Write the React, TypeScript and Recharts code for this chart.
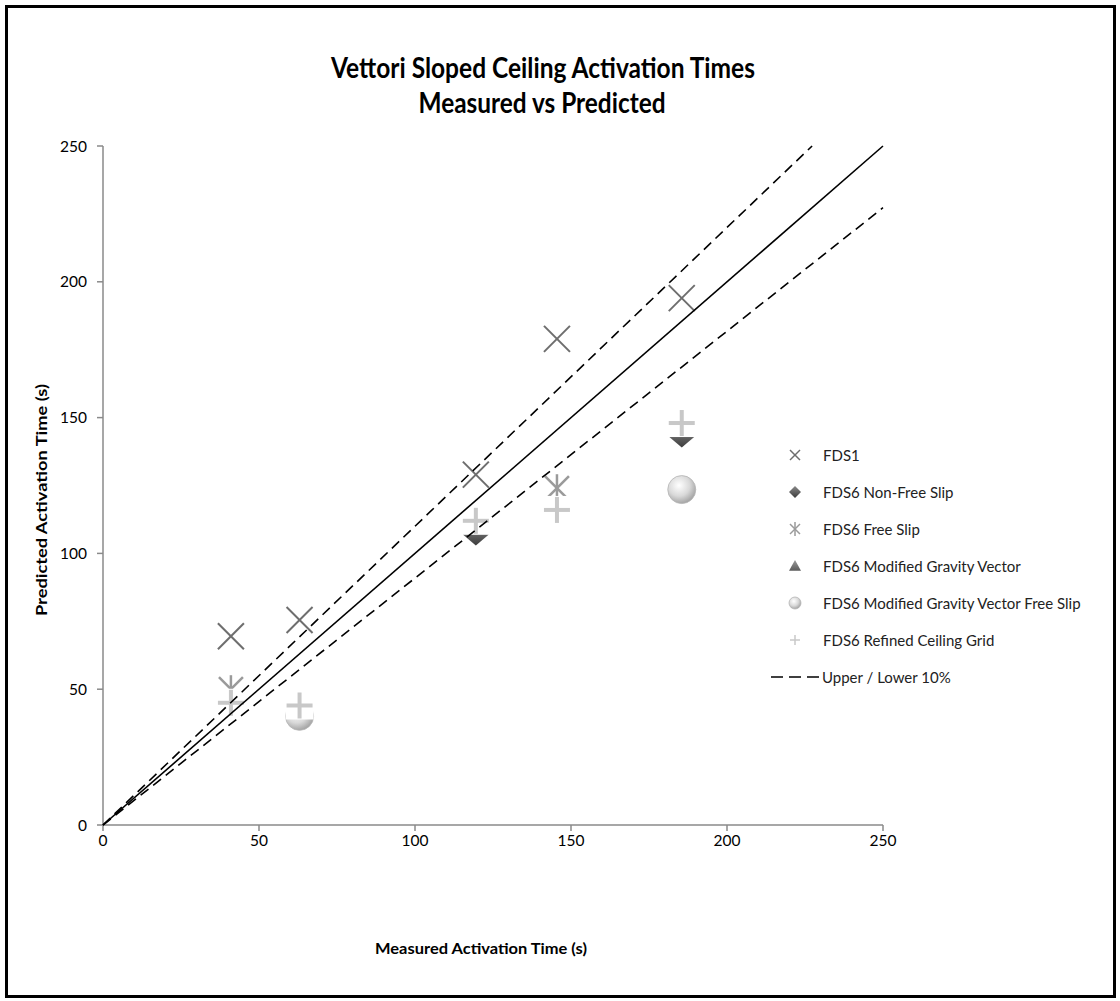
import { ScatterChart, Scatter, XAxis, YAxis } from "recharts";

// measured activation times (s)
const measured = [41, 63, 119.5, 145.5, 185.5];
const fds1 = [69.5, 75.5, 129, 179, 194];
const refinedGrid = [45, 44, 112, 116, 148];

const nonFreeSlipX = [119.5, 185.5];
const nonFreeSlipY = [107, 143];
const freeSlipX = [41, 145.5];
const freeSlipY = [50, 124];
const modGravityX: number[] = [];
const modGravityY: number[] = [];
const modGravityFreeX = [63, 185.5];
const modGravityFreeY = [40, 123.5];

const ticks = [0, 50, 100, 150, 200, 250];
const axisMax = 250;
const exactFactor = 1;
const upperFactor = 1.1;
const lowerFactor = 1 / 1.1;

const legendNames = [
  "FDS1",
  "FDS6 Non-Free Slip",
  "FDS6 Free Slip",
  "FDS6 Modified Gravity Vector",
  "FDS6 Modified Gravity Vector Free Slip",
  "FDS6 Refined Ceiling Grid",
  "Upper / Lower 10%",
];

const zip = (xs: number[], ys: number[]) => xs.map((x, i) => ({ x, y: ys[i] }));
const line = (f: number) => {
  const endX = Math.min(axisMax, axisMax / f);
  return [
    { x: 0, y: 0 },
    { x: endX, y: endX * f },
  ];
};

const FONT = "Lato, 'Open Sans', sans-serif";

const XMark = ({ cx, cy, s = 13, w = 2 }: any) => (
  <g>
    <line x1={cx - s} y1={cy - s} x2={cx + s} y2={cy + s} stroke="#6e6e6e" strokeWidth={w} />
    <line x1={cx - s} y1={cy + s} x2={cx + s} y2={cy - s} stroke="#6e6e6e" strokeWidth={w} />
  </g>
);

const Plus = ({ cx, cy, s = 13, w = 4, bg = true }: any) => (
  <g>
    {bg && <rect x={cx - s - 1} y={cy - s - 1} width={2 * s + 2} height={2 * s + 2} fill="#fff" />}
    <line x1={cx} y1={cy - s} x2={cx} y2={cy + s} stroke="#c8c8c8" strokeWidth={w} />
    <line x1={cx - s} y1={cy} x2={cx + s} y2={cy} stroke="#c8c8c8" strokeWidth={w} />
  </g>
);

const Asterisk = ({ cx, cy, s = 12, w = 2.5 }: any) => (
  <g stroke="#9a9a9a" strokeWidth={w}>
    <line x1={cx - s} y1={cy - s} x2={cx + s} y2={cy + s} />
    <line x1={cx - s} y1={cy + s} x2={cx + s} y2={cy - s} />
    <line x1={cx} y1={cy - s - 2} x2={cx} y2={cy + s + 2} />
  </g>
);

const Diamond = ({ cx, cy, rx = 13, ry = 11 }: any) => (
  <polygon
    points={`${cx},${cy - ry} ${cx + rx},${cy} ${cx},${cy + ry} ${cx - rx},${cy}`}
    fill="url(#diamondGrad)"
  />
);

const Triangle = ({ cx, cy, s = 12 }: any) => (
  <polygon points={`${cx},${cy - s} ${cx + s},${cy + s * 0.8} ${cx - s},${cy + s * 0.8}`} fill="url(#triGrad)" />
);

const Sphere = ({ cx, cy, r = 14 }: any) => (
  <circle cx={cx} cy={cy} r={r} fill="url(#sphereGrad)" stroke="#b5b5b5" strokeWidth={0.8} />
);

const None = () => <g />;

const legendIcons = [
  <XMark cx={10} cy={10} s={5} w={1.5} />,
  <Diamond cx={10} cy={10} rx={6} ry={6} />,
  <Asterisk cx={10} cy={10} s={5} w={1.5} />,
  <Triangle cx={10} cy={10} s={6} />,
  <Sphere cx={10} cy={10} r={6} />,
  <Plus cx={10} cy={10} s={5} w={1.5} bg={false} />,
];

export default function App() {
  return (
    <div style={{ position: "absolute", left: 0, top: 0, width: 1120, height: 1001, background: "#fff", fontFamily: FONT }}>
      <svg width={0} height={0} style={{ position: "absolute" }}>
        <defs>
          <radialGradient id="sphereGrad" cx="40%" cy="35%" r="70%">
            <stop offset="0%" stopColor="#ffffff" />
            <stop offset="55%" stopColor="#d9d9d9" />
            <stop offset="100%" stopColor="#9c9c9c" />
          </radialGradient>
          <linearGradient id="diamondGrad" x1="0" y1="0" x2="0" y2="1">
            <stop offset="0%" stopColor="#8a8a8a" />
            <stop offset="100%" stopColor="#3c3c3c" />
          </linearGradient>
          <linearGradient id="triGrad" x1="0" y1="0" x2="0" y2="1">
            <stop offset="0%" stopColor="#9a9a9a" />
            <stop offset="100%" stopColor="#5a5a5a" />
          </linearGradient>
        </defs>
      </svg>

      <div
        style={{
          position: "absolute",
          left: 5,
          top: 5,
          width: 1111,
          height: 993,
          border: "3px solid #000",
          boxSizing: "border-box",
        }}
      />

      <svg width={1120} height={140} style={{ position: "absolute", left: 0, top: 0 }}>
        <text x={543} y={78} textAnchor="middle" fontFamily={FONT} fontWeight="bold" fontSize={29} textLength={424} lengthAdjust="spacingAndGlyphs" fill="#000">
          Vettori Sloped Ceiling Activation Times
        </text>
        <text x={542} y={113} textAnchor="middle" fontFamily={FONT} fontWeight="bold" fontSize={29} textLength={247} lengthAdjust="spacingAndGlyphs" fill="#000">
          Measured vs Predicted
        </text>
      </svg>

      <div style={{ position: "absolute", left: 0, top: 0 }}>
        <ScatterChart width={1120} height={1001} margin={{ top: 146, right: 237, bottom: 146, left: 43 }}>
          <XAxis
            type="number"
            dataKey="x"
            domain={[0, axisMax]}
            ticks={ticks}
            height={30}
            tickSize={6}
            tickMargin={4}
            axisLine={{ stroke: "#8a8a8a", strokeWidth: 1.5 }}
            tickLine={{ stroke: "#8a8a8a", strokeWidth: 1.5 }}
            tick={{ fill: "#000", fontSize: 15.5, fontFamily: FONT }}
          />
          <YAxis
            type="number"
            dataKey="y"
            domain={[0, axisMax]}
            ticks={ticks}
            width={60}
            tickSize={6}
            tickMargin={10}
            axisLine={{ stroke: "#8a8a8a", strokeWidth: 1.5 }}
            tickLine={{ stroke: "#8a8a8a", strokeWidth: 1.5 }}
            tick={{ fill: "#000", fontSize: 15.5, fontFamily: FONT }}
          />
          <Scatter name="FDS6 Modified Gravity Vector Free Slip" data={zip(modGravityFreeX, modGravityFreeY)} shape={(p: any) => <Sphere cx={p.cx} cy={p.cy} />} isAnimationActive={false} />
          <Scatter name="FDS6 Modified Gravity Vector" data={zip(modGravityX, modGravityY)} shape={(p: any) => <Triangle cx={p.cx} cy={p.cy} />} isAnimationActive={false} />
          <Scatter name="FDS6 Non-Free Slip" data={zip(nonFreeSlipX, nonFreeSlipY)} shape={(p: any) => <Diamond cx={p.cx} cy={p.cy} />} isAnimationActive={false} />
          <Scatter name="FDS6 Free Slip" data={zip(freeSlipX, freeSlipY)} shape={(p: any) => <Asterisk cx={p.cx} cy={p.cy} />} isAnimationActive={false} />
          <Scatter name="FDS1" data={zip(measured, fds1)} shape={(p: any) => <XMark cx={p.cx} cy={p.cy} />} isAnimationActive={false} />
          <Scatter name="FDS6 Refined Ceiling Grid" data={zip(measured, refinedGrid)} shape={(p: any) => <Plus cx={p.cx} cy={p.cy} />} isAnimationActive={false} />
          <Scatter name="exact" data={line(exactFactor)} line={{ stroke: "#000", strokeWidth: 1.6 }} shape={None} isAnimationActive={false} />
          <Scatter name="upper" data={line(upperFactor)} line={{ stroke: "#000", strokeWidth: 1.6, strokeDasharray: "10 6" }} shape={None} isAnimationActive={false} />
          <Scatter name="lower" data={line(lowerFactor)} line={{ stroke: "#000", strokeWidth: 1.6, strokeDasharray: "10 6" }} shape={None} isAnimationActive={false} />
        </ScatterChart>
      </div>

      <svg width={1120} height={1001} style={{ position: "absolute", left: 0, top: 0, pointerEvents: "none" }}>
        <text
          x={0}
          y={0}
          transform="translate(47 500) rotate(-90)"
          textAnchor="middle"
          fontFamily={FONT}
          fontWeight="bold"
          fontSize={15}
          textLength={232}
          lengthAdjust="spacingAndGlyphs"
          fill="#000"
        >
          Predicted Activation Time (s)
        </text>
        <text x={481} y={954} textAnchor="middle" fontFamily={FONT} fontWeight="bold" fontSize={15} textLength={212} lengthAdjust="spacingAndGlyphs" fill="#000">
          Measured Activation Time (s)
        </text>
      </svg>

      {legendNames.map((name, i) => {
        const y = 455 + i * 37;
        const isLine = i === legendNames.length - 1;
        return (
          <div key={name} style={{ position: "absolute", left: 0, top: y - 11, height: 22, width: 1120 }}>
            {isLine ? (
              <svg width={50} height={22} style={{ position: "absolute", left: 771, top: 0 }}>
                <line x1={0} y1={11} x2={48} y2={11} stroke="#000" strokeWidth={1.6} strokeDasharray="12 6" />
              </svg>
            ) : (
              <svg width={20} height={20} style={{ position: "absolute", left: 785, top: 1 }}>
                {legendIcons[i]}
              </svg>
            )}
            <span
              style={{
                position: "absolute",
                left: isLine ? 822 : 823,
                top: 0,
                lineHeight: "22px",
                fontSize: 15,
                color: "#222",
                whiteSpace: "nowrap",
              }}
            >
              {name}
            </span>
          </div>
        );
      })}
    </div>
  );
}
